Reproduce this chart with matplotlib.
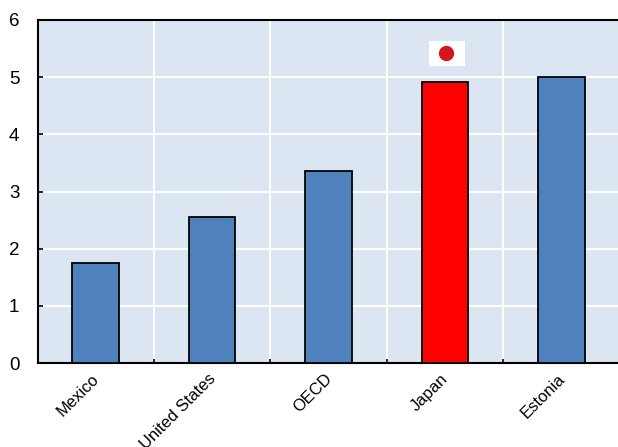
import matplotlib
matplotlib.use('Agg')
import matplotlib.pyplot as plt
from matplotlib.patches import Rectangle

plt.rcParams['font.family'] = ['Liberation Sans', 'DejaVu Sans']

countries = ['Mexico', 'United States', 'OECD', 'Japan', 'Estonia']
values = [1.75, 2.55, 3.35, 4.92, 5.0]
bar_colors = ['#4f81bd', '#4f81bd', '#4f81bd', '#ff0000', '#4f81bd']
y_ticks = [0, 1, 2, 3, 4, 5, 6]

fig = plt.figure(figsize=(6.18, 4.47), dpi=100)
ax = fig.add_axes([37.5 / 618, 1 - 363 / 447, 582 / 618, (363 - 20) / 447])
ax.set_facecolor('#dce6f2')

x_pos = list(range(len(countries)))
ax.bar(x_pos, values, width=0.4, color=bar_colors, edgecolor='black', linewidth=1.3, zorder=3)

ax.set_xlim(-0.5, 4.5)
ax.set_ylim(0, 6)
ax.set_yticks(y_ticks)
ax.set_xticks([i + 0.5 for i in range(-1, 5)])
ax.set_xticklabels([])
ax.tick_params(axis='x', direction='in', length=3, width=1.2)
ax.tick_params(axis='y', direction='in', length=3.5, width=1.2, labelsize=13.5, pad=13)
ax.grid(True, color='white', linewidth=1.5, zorder=1)
ax.set_axisbelow(True)

# rotated country labels, shifted left of the bar centre
for lab, x in zip(countries, x_pos):
    ax.annotate(lab, (x, 0), xycoords=('data', 'axes fraction'), xytext=(-3, -6), textcoords='offset points',
                rotation=45, ha='right', va='top', rotation_mode='anchor', fontsize=11.9)

ax.spines['right'].set_visible(False)
for s in ['left', 'bottom', 'top']:
    ax.spines[s].set_linewidth(1.5)

# flag of Japan above its bar
ax.add_patch(Rectangle((2.86, 5.195), 0.315, 0.437, facecolor='white', edgecolor='none', zorder=5))
ax.plot([3.01], [5.42], 'o', color='#d7141a', markersize=11, markeredgewidth=0, zorder=6)

fig.savefig('out.png', dpi=100)
